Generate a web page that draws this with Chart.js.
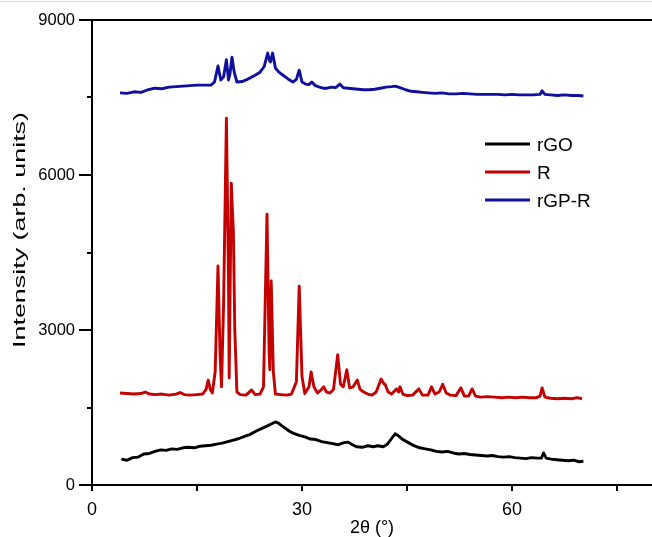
<!DOCTYPE html>
<html>
<head>
<meta charset="utf-8">
<script src="https://cdn.jsdelivr.net/npm/chart.js@4.4.1/dist/chart.umd.min.js"></script>
<style>
html,body{margin:0;padding:0;background:#fff;}
#wrap{width:652px;height:537px;position:relative;}
</style>
</head>
<body>
<div id="wrap"><canvas id="c" width="652" height="537"></canvas></div>
<script>
const seriesNames = ['rGO', 'R', 'rGP-R'];
const seriesColors = ['#000000', '#c40000', '#10109e'];
const xTickLabels = [0, 30, 60];
const yTickLabels = [0, 3000, 6000, 9000];
const yMinorTicks = [1500, 4500, 7500];
const xTitle = '2θ (°)';
const yTitle = 'Intensity (arb. units)';

const rgoAngle = [4.2,5,5.8,6.6,7.4,8.2,9,9.8,10.6,11.4,12.2,13,13.8,14.6,15.4,16.2,17,17.8,18.6,19.4,20.2,21,21.8,22.6,23.4,24.2,25,25.6,26.2,26.6,27,27.6,28.2,28.8,29.6,30.4,31.2,32,32.8,33.6,34.4,35.2,36,36.6,37.2,37.8,38.6,39.4,40.2,40.8,41.6,42.2,42.8,43.3,43.8,44.4,45.2,46,46.8,47.6,48.4,49.2,50,50.8,51.6,52.4,53.2,54,54.8,55.6,56.4,57.2,58,58.8,59.6,60.4,61.2,62,62.8,63.6,64.2,64.5,64.9,65.6,66.4,67.2,68,68.8,69.6,70.2];
const rgoValue = [500,480,530,540,600,610,650,680,670,700,690,720,730,720,750,760,770,790,810,840,870,900,940,980,1040,1090,1140,1180,1220,1200,1160,1100,1040,1000,960,930,890,880,840,820,800,780,820,830,780,740,730,760,740,760,740,790,900,990,950,880,820,760,720,700,680,650,640,650,620,600,610,590,580,570,560,570,550,540,550,530,520,510,530,520,520,620,520,500,490,480,470,480,450,460];

const rAngle = [4,5,6,7,7.6,8.2,9,10,11,12,12.6,13.2,14,15,15.8,16.3,16.6,16.9,17.2,17.6,18.0,18.3,18.5,18.8,19.2,19.5,19.6,19.75,19.9,20.1,20.2,20.4,20.7,21.2,22,22.8,23.3,24,24.5,25.0,25.3,25.4,25.6,25.9,26.2,27,27.8,28.5,29.2,29.6,30,30.4,31,31.3,31.7,32.2,32.8,33.1,33.5,34,34.5,35.1,35.5,35.9,36.4,36.8,37.3,37.9,38.3,38.8,39.4,40,40.6,41.3,41.7,41.9,42.3,42.8,43.5,43.8,44,44.4,45,45.8,46.7,47.2,48,48.5,49,49.6,50.1,50.6,51.2,52,52.7,53.2,53.8,54.3,54.8,55.5,56.5,57.5,58.5,59.5,60.5,61.5,62.5,63.5,64,64.3,64.7,65.5,66.5,67.5,68.5,69.3,70];
const rValue = [1780,1770,1760,1770,1800,1760,1750,1760,1740,1760,1790,1750,1740,1750,1760,1850,2030,1850,1780,2200,4240,2500,1900,3500,7100,4000,2070,4000,5840,5200,4900,3000,1800,1750,1740,1840,1750,1760,1900,5240,2600,2230,3950,2200,1760,1750,1740,1760,2000,3850,2100,1770,1900,2190,1900,1780,1850,1900,1800,1780,1850,2520,1950,1900,2230,1880,1900,2030,1850,1800,1760,1740,1800,2050,1960,1940,1800,1760,1860,1800,1900,1760,1730,1740,1860,1740,1740,1900,1760,1800,1950,1780,1740,1730,1880,1720,1720,1860,1720,1700,1710,1700,1690,1700,1690,1700,1690,1690,1720,1880,1700,1680,1670,1680,1670,1690,1670];

const rgprAngle = [4,5,6,7,8,9,10,11,12,13,14,15,16,17,17.5,18,18.4,18.8,19.2,19.5,19.7,20.0,20.3,20.7,21.5,22,22.6,23.3,24,24.6,25.1,25.4,25.5,25.8,26.2,26.7,27.2,28,28.7,29.2,29.6,30.0,30.5,31,31.4,31.9,32.5,33,33.6,34.2,34.8,35.4,35.9,36.6,37.3,38,38.8,39.6,40.4,41.2,42,42.8,43.3,44,44.8,45.6,46.4,47.2,48,49,50,51,52,53,54,55,56,57,58,59,60,61,62,63,64,64.3,64.7,65.5,66.5,67.5,68.5,69.5,70.2];
const rgprValue = [7590,7580,7610,7600,7650,7680,7670,7700,7710,7720,7730,7740,7740,7740,7800,8110,7840,7900,8230,7840,7950,8280,8000,7800,7810,7840,7880,7930,7990,8100,8360,8200,8190,8360,8070,7990,7940,7860,7800,7850,8030,7800,7760,7750,7800,7730,7700,7680,7680,7700,7690,7760,7690,7680,7670,7660,7650,7650,7660,7680,7700,7710,7720,7690,7650,7620,7610,7600,7590,7580,7590,7570,7570,7580,7570,7560,7560,7560,7560,7550,7560,7550,7550,7550,7560,7630,7560,7550,7540,7550,7540,7540,7530];

function pts(xs, ys){ return xs.map((x,i)=>({x:x, y:ys[i]})); }

const FONT = '"Liberation Sans", Arial, Helvetica, sans-serif';

const framePlugin = {
  id:'frame',
  afterDraw(chart){
    const ctx = chart.ctx, a = chart.chartArea;
    const ys = chart.scales.y;
    ctx.save();
    ctx.strokeStyle = '#d4d4d4'; ctx.lineWidth = 1;
    ctx.beginPath(); ctx.moveTo(0, 1.5); ctx.lineTo(chart.width, 1.5); ctx.stroke();
    ctx.strokeStyle = '#000'; ctx.lineWidth = 2;
    ctx.beginPath(); ctx.moveTo(a.left, a.top); ctx.lineTo(a.right, a.top); ctx.stroke();
    yMinorTicks.forEach(v => {
      const py = Math.round(ys.getPixelForValue(v));
      ctx.beginPath(); ctx.moveTo(a.left - 5, py); ctx.lineTo(a.left, py); ctx.stroke();
    });
    ctx.save();
    ctx.font = '17px ' + FONT;
    const w = ctx.measureText(yTitle).width;
    ctx.translate(20, 230);
    ctx.rotate(-Math.PI / 2);
    ctx.scale(236 / w, 1);
    ctx.fillStyle = '#000';
    ctx.textAlign = 'center';
    ctx.textBaseline = 'middle';
    ctx.fillText(yTitle, 0, 0);
    ctx.restore();
    const ly = [145, 173, 201];
    ctx.font = '19px ' + FONT;
    ctx.textBaseline = 'middle';
    ctx.textAlign = 'left';
    chart.data.datasets.forEach((ds, i) => {
      ctx.strokeStyle = ds.borderColor; ctx.lineWidth = 3;
      ctx.beginPath(); ctx.moveTo(485, ly[i] - 1); ctx.lineTo(530, ly[i] - 1); ctx.stroke();
      ctx.fillStyle = '#000';
      ctx.fillText(ds.label, 537, ly[i] + 1);
    });
    ctx.restore();
  }
};

new Chart(document.getElementById('c'), {
  type: 'line',
  data: {
    datasets: [
      {label: seriesNames[0], data: pts(rgoAngle, rgoValue), borderColor: seriesColors[0], borderWidth: 2.9, borderJoinStyle: 'round', pointRadius: 0, tension: 0},
      {label: seriesNames[1], data: pts(rAngle, rValue), borderColor: seriesColors[1], borderWidth: 2.9, borderJoinStyle: 'round', pointRadius: 0, tension: 0},
      {label: seriesNames[2], data: pts(rgprAngle, rgprValue), borderColor: seriesColors[2], borderWidth: 2.9, borderJoinStyle: 'round', pointRadius: 0, tension: 0}
    ]
  },
  options: {
    responsive: false,
    animation: false,
    events: [],
    layout: {padding: {top: 20, right: 0, left: 0, bottom: 0}},
    plugins: {legend: {display: false}, tooltip: {enabled: false}},
    scales: {
      x: {
        type: 'linear', min: 0, max: 80,
        afterFit(s){ s.height = 52; },
        border: {display: true, color: '#000', width: 2},
        grid: {display: true, drawOnChartArea: false, drawTicks: true, tickLength: 6, color: '#000', lineWidth: 2},
        ticks: {
          stepSize: 15, includeBounds: false, color: '#000', padding: 8, maxRotation: 0, autoSkip: false,
          font: {family: FONT, size: 18},
          callback: v => xTickLabels.includes(v) ? String(v) : ''
        },
        title: {display: true, text: xTitle, color: '#000', font: {family: FONT, size: 18}, padding: {top: 0, bottom: -2}}
      },
      y: {
        min: 0, max: 9000,
        afterFit(s){ s.width = 92; },
        border: {display: true, color: '#000', width: 2},
        grid: {display: true, drawOnChartArea: false, drawTicks: true, tickLength: 13, color: '#000', lineWidth: 2},
        ticks: {
          stepSize: 3000, color: '#000', padding: 4, autoSkip: false,
          font: {family: FONT, size: 16.5},
          callback: v => yTickLabels.includes(v) ? String(v) : ''
        },
        title: {display: false}
      }
    }
  },
  plugins: [framePlugin]
});
</script>
</body>
</html>
